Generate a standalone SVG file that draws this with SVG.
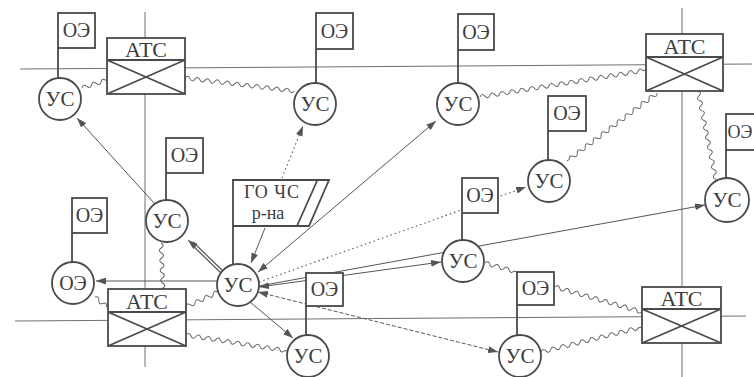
<svg xmlns="http://www.w3.org/2000/svg" width="754" height="377" viewBox="0 0 754 377" font-family="'Liberation Serif', 'Times New Roman', serif">
<style>
.g{stroke:#707070;stroke-width:1;fill:none}
.w{stroke:#666;stroke-width:1;fill:none}
.c{stroke:#555;stroke-width:1;fill:none}
.d{stroke:#555;stroke-width:1.1;fill:none;stroke-dasharray:1.5 3}
.ds{stroke:#555;stroke-width:1;fill:none;stroke-dasharray:4 2}
.n{stroke:#4a4a4a;stroke-width:1.8;fill:#fff}
.p{stroke:#4a4a4a;stroke-width:1.8;fill:none}
text{font-family:'Liberation Serif','Times New Roman',serif;fill:#3c3c3c;text-anchor:middle}
.us{font-size:21px}
.oe{font-size:20px}
.atc{font-size:22px}
.go{font-size:18px}
</style>
<defs>
<marker id="ar" viewBox="0 0 10 7" refX="10" refY="3.5" markerWidth="10" markerHeight="7" markerUnits="userSpaceOnUse" orient="auto-start-reverse">
<path d="M0 0L10 3.5L0 7z" fill="#555"/>
</marker>
</defs>
<rect width="754" height="377" fill="#fff"/>
<g id="grid">
<line class="g" x1="20" y1="69" x2="752" y2="64"/>
<line class="g" x1="15" y1="321" x2="746" y2="316"/>
<line class="g" x1="145" y1="12" x2="145" y2="367"/>
<line class="g" x1="682" y1="8" x2="682" y2="377"/>
</g>
<g id="connectors">
<path class="w" transform="translate(82,88) rotate(-17.7)" d="M0 0q2.5 -4 5 0t5 0t5 0t5 0t5 0l1 0"/>
<path class="w" transform="translate(185,78) rotate(6.8)" d="M0 0q2.5 -4 5 0t5 0t5 0t5 0t5 0t5 0t5 0t5 0t5 0t5 0t5 0t5 0t5 0t5 0t5 0t5 0t5 0t5 0t5 0t5 0t5 0t5 0"/>
<path class="w" transform="translate(480,97) rotate(-9.2)" d="M0 0q2.5 -4 5 0t5 0t5 0t5 0t5 0t5 0t5 0t5 0t5 0t5 0t5 0t5 0t5 0t5 0t5 0t5 0t5 0t5 0t5 0t5 0t5 0t5 0t5 0t5 0t5 0t5 0t5 0t5 0t5 0t5 0t5 0t5 0t5 0l3 0"/>
<path class="w" transform="translate(657,93) rotate(142.9)" d="M0 0q2.5 -4 5 0t5 0t5 0t5 0t5 0t5 0t5 0t5 0t5 0t5 0t5 0t5 0t5 0t5 0t5 0t5 0t5 0t5 0t5 0t5 0t5 0t5 0l3 0"/>
<path class="w" transform="translate(698,91) rotate(78.6)" d="M0 0q2.5 -4 5 0t5 0t5 0t5 0t5 0t5 0t5 0t5 0t5 0t5 0t5 0t5 0t5 0t5 0t5 0t5 0t5 0t5 0l1 0"/>
<path class="w" transform="translate(161,243) rotate(87.6)" d="M0 0q2.5 -4 5 0t5 0t5 0t5 0t5 0t5 0t5 0t5 0t5 0l2 0"/>
<path class="w" transform="translate(95,297) rotate(40)" d="M0 0q2.5 -4 5 0t5 0t5 0l2 0"/>
<path class="w" transform="translate(186,307) rotate(-25)" d="M0 0q2.5 -4 5 0t5 0t5 0t5 0t5 0t5 0t5 0"/>
<path class="w" transform="translate(186,335) rotate(8.9)" d="M0 0q2.5 -4 5 0t5 0t5 0t5 0t5 0t5 0t5 0t5 0t5 0t5 0t5 0t5 0t5 0t5 0t5 0t5 0t5 0t5 0t5 0t5 0l3 0"/>
<path class="w" transform="translate(485,263) rotate(15.7)" d="M0 0q2.5 -4 5 0t5 0t5 0t5 0t5 0t5 0l3 0"/>
<path class="w" transform="translate(555,287) rotate(16)" d="M0 0q2.5 -4 5 0t5 0t5 0t5 0t5 0t5 0t5 0t5 0t5 0t5 0t5 0t5 0t5 0t5 0t5 0t5 0t5 0t5 0"/>
<path class="w" transform="translate(541,352) rotate(-13.9)" d="M0 0q2.5 -4 5 0t5 0t5 0t5 0t5 0t5 0t5 0t5 0t5 0t5 0t5 0t5 0t5 0t5 0t5 0t5 0t5 0t5 0t5 0t5 0l4 0"/>
<line class="c" x1="154" y1="203" x2="77" y2="118" marker-end="url(#ar)"/>
<line x1="222" y1="272" x2="192" y2="243" stroke="#555" stroke-width="4"/>
<line x1="222" y1="272" x2="192" y2="243" stroke="#fff" stroke-width="1.6"/>
<line class="c" x1="195" y1="246" x2="188" y2="240" marker-end="url(#ar)"/>
<line class="c" x1="217" y1="281" x2="96" y2="281" marker-end="url(#ar)"/>
<line class="d" x1="282" y1="178" x2="303" y2="126" marker-end="url(#ar)"/>
<line class="c" x1="265" y1="228" x2="251" y2="263" marker-end="url(#ar)"/>
<line class="c" x1="258" y1="272" x2="436" y2="121" marker-start="url(#ar)" marker-end="url(#ar)"/>
<line class="d" x1="259" y1="282" x2="526" y2="187" marker-end="url(#ar)"/>
<line class="c" x1="259" y1="286" x2="705" y2="205" marker-end="url(#ar)"/>
<line class="c" x1="259" y1="287" x2="441" y2="262" marker-start="url(#ar)" marker-end="url(#ar)"/>
<line class="c" x1="250" y1="302" x2="293" y2="338" marker-end="url(#ar)"/>
<line class="ds" x1="258" y1="292" x2="498" y2="352" marker-start="url(#ar)" marker-end="url(#ar)"/>
</g>
<g id="atc1">
<rect class="n" x="107" y="38" width="78" height="56"/>
<path class="p" d="M107 60H185M107 60L185 94M185 60L107 94"/>
<text class="atc" x="146" y="57">АТС</text>
</g>
<g id="atc2">
<rect class="n" x="646" y="34" width="77" height="57"/>
<path class="p" d="M646 57H723M646 57L723 91M723 57L646 91"/>
<text class="atc" x="684.5" y="54">АТС</text>
</g>
<g id="atc3">
<rect class="n" x="108" y="289" width="78" height="57"/>
<path class="p" d="M108 312H186M108 312L186 346M186 312L108 346"/>
<text class="atc" x="147" y="309">АТС</text>
</g>
<g id="atc4">
<rect class="n" x="642" y="287" width="79" height="56"/>
<path class="p" d="M642 309H721M642 309L721 343M721 309L642 343"/>
<text class="atc" x="681.5" y="306">АТС</text>
</g>
<g id="us1">
<line class="p" x1="58" y1="48" x2="58" y2="78"/>
<rect class="n" x="58" y="13" width="37" height="35"/>
<text class="oe" x="76.5" y="37">ОЭ</text>
<circle class="n" cx="60" cy="99" r="21"/>
<text class="us" x="60" y="106">УС</text>
</g>
<g id="us2">
<line class="p" x1="316" y1="49" x2="316" y2="83"/>
<rect class="n" x="316" y="13" width="37" height="36"/>
<text class="oe" x="334.5" y="38">ОЭ</text>
<circle class="n" cx="315" cy="104" r="21"/>
<text class="us" x="315" y="111">УС</text>
</g>
<g id="us3">
<line class="p" x1="458" y1="50" x2="458" y2="83"/>
<rect class="n" x="458" y="14" width="36" height="36"/>
<text class="oe" x="476" y="39">ОЭ</text>
<circle class="n" cx="458" cy="104" r="21"/>
<text class="us" x="458" y="111">УС</text>
</g>
<g id="us4">
<line class="p" x1="548" y1="131" x2="548" y2="160"/>
<rect class="n" x="548" y="96" width="38" height="35"/>
<text class="oe" x="567" y="120">ОЭ</text>
<circle class="n" cx="549" cy="181" r="21"/>
<text class="us" x="549" y="188">УС</text>
</g>
<g id="us5">
<line class="p" x1="726" y1="150" x2="726" y2="178"/>
<rect class="n" x="726" y="114" width="38" height="36"/>
<text class="oe" x="740" y="138" style="font-size:18px">ОЭ</text>
<circle class="n" cx="727" cy="200" r="22"/>
<text class="us" x="727" y="207">УС</text>
</g>
<g id="us6">
<line class="p" x1="166" y1="173" x2="166" y2="200"/>
<rect class="n" x="166" y="138" width="37" height="35"/>
<text class="oe" x="184.5" y="162">ОЭ</text>
<circle class="n" cx="167" cy="221" r="21"/>
<text class="us" x="167" y="228">УС</text>
</g>
<g id="oe-node">
<line class="p" x1="72" y1="233" x2="72" y2="262"/>
<rect class="n" x="72" y="198" width="35" height="35"/>
<text class="oe" x="89.5" y="222">ОЭ</text>
<circle class="n" cx="73" cy="283" r="21"/>
<text class="oe" x="73" y="290">ОЭ</text>
</g>
<g id="us-center">
<line class="p" x1="233" y1="226" x2="233" y2="264"/>
<path class="n" d="M233 180H329L309 226H233Z"/>
<line class="p" x1="317" y1="181" x2="297" y2="226"/>
<text class="go" x="272" y="198" letter-spacing="1">ГО ЧС</text>
<text class="go" x="268" y="219">р-на</text>
<circle class="n" cx="238" cy="285" r="21"/>
<text class="us" x="238" y="292">УС</text>
</g>
<g id="us7">
<line class="p" x1="306" y1="306" x2="306" y2="335"/>
<rect class="n" x="306" y="273" width="37" height="33"/>
<text class="oe" x="324.5" y="296">ОЭ</text>
<circle class="n" cx="308" cy="356" r="21"/>
<text class="us" x="308" y="363">УС</text>
</g>
<g id="us8">
<line class="p" x1="462" y1="213" x2="462" y2="240"/>
<rect class="n" x="462" y="178" width="36" height="35"/>
<text class="oe" x="480" y="202">ОЭ</text>
<circle class="n" cx="463" cy="261" r="21"/>
<text class="us" x="463" y="268">УС</text>
</g>
<g id="us9">
<line class="p" x1="517" y1="305" x2="517" y2="335"/>
<rect class="n" x="517" y="272" width="37" height="33"/>
<text class="oe" x="535.5" y="295">ОЭ</text>
<circle class="n" cx="520" cy="356" r="21"/>
<text class="us" x="520" y="363">УС</text>
</g>
</svg>
